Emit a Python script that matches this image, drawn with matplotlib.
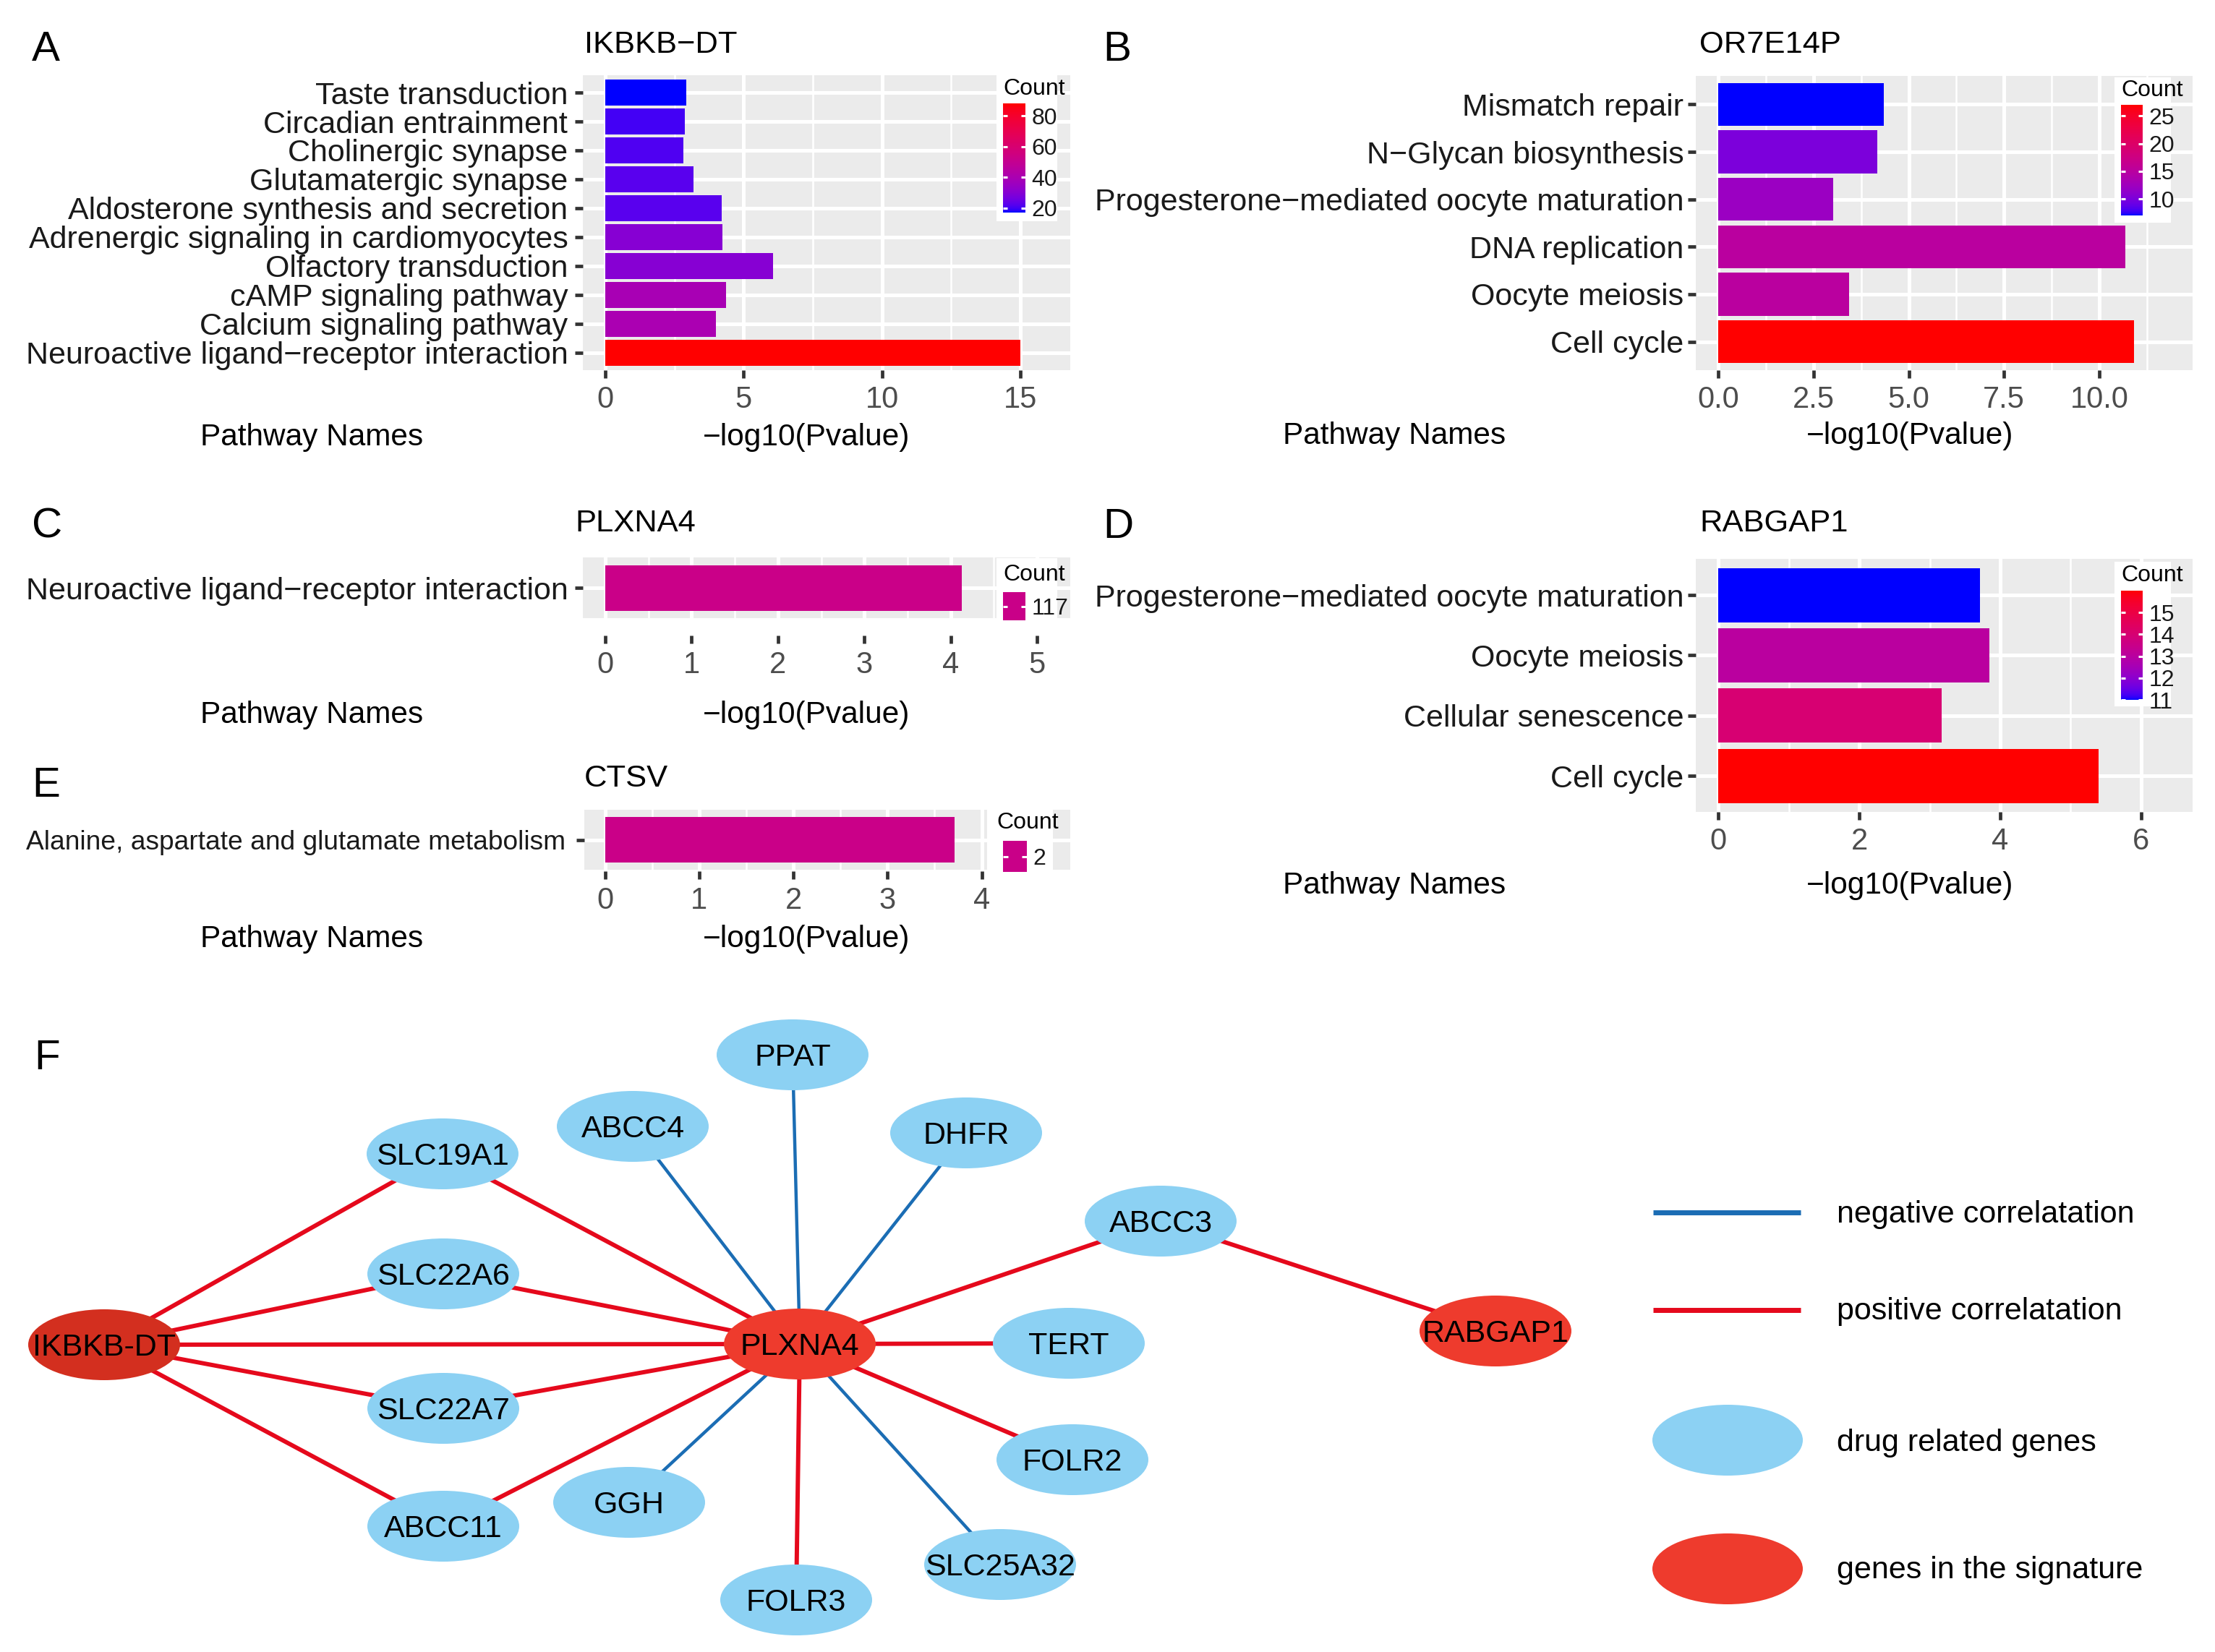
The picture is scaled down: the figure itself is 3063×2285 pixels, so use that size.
import numpy as np
import matplotlib
matplotlib.use("Agg")
import matplotlib.pyplot as plt
from matplotlib.patches import Ellipse, Rectangle
from matplotlib.colors import ListedColormap, Normalize

plt.rcParams['font.family'] = ['Liberation Sans', 'DejaVu Sans']

# ---------------- data ----------------
a_terms = ["Taste transduction", "Circadian entrainment", "Cholinergic synapse",
           "Glutamatergic synapse", "Aldosterone synthesis and secretion",
           "Adrenergic signaling in cardiomyocytes", "Olfactory transduction",
           "cAMP signaling pathway", "Calcium signaling pathway",
           "Neuroactive ligand\u2212receptor interaction"]
a_logp = [2.93, 2.88, 2.81, 3.19, 4.21, 4.23, 6.05, 4.36, 4.00, 15.0]
a_count = [17, 20, 21, 22, 22, 30, 30, 39, 40, 88]

b_terms = ["Mismatch repair", "N\u2212Glycan biosynthesis",
           "Progesterone\u2212mediated oocyte maturation", "DNA replication",
           "Oocyte meiosis", "Cell cycle"]
b_logp = [4.35, 4.18, 3.02, 10.68, 3.44, 10.91]
b_count = [7, 10, 12, 15, 15, 27]

c_terms = ["Neuroactive ligand\u2212receptor interaction"]
c_logp = [4.13]
c_count = [117]

d_terms = ["Progesterone\u2212mediated oocyte maturation", "Oocyte meiosis",
           "Cellular senescence", "Cell cycle"]
d_logp = [3.71, 3.85, 3.17, 5.40]
d_count = [11, 13, 14, 16]

e_terms = ["Alanine, aspartate and glutamate metabolism"]
e_logp = [3.71]
e_count = [2]

a_ticks, a_tick_labels = [0, 5, 10, 15], ["0", "5", "10", "15"]
b_ticks, b_tick_labels = [0, 2.5, 5, 7.5, 10], ["0.0", "2.5", "5.0", "7.5", "10.0"]
c_ticks, c_tick_labels = [0, 1, 2, 3, 4, 5], ["0", "1", "2", "3", "4", "5"]
d_ticks, d_tick_labels = [0, 2, 4, 6], ["0", "2", "4", "6"]
e_ticks, e_tick_labels = [0, 1, 2, 3, 4], ["0", "1", "2", "3", "4"]
a_cb_ticks = [20, 40, 60, 80]
b_cb_ticks = [10, 15, 20, 25]
d_cb_ticks = [11, 12, 13, 14, 15]

# network
node_names = ["IKBKB-DT", "PLXNA4", "RABGAP1", "SLC19A1", "SLC22A6", "SLC22A7",
              "ABCC11", "ABCC4", "PPAT", "DHFR", "ABCC3", "TERT", "FOLR2",
              "SLC25A32", "FOLR3", "GGH"]
node_type = ["sig_dark", "sig", "sig", "drug", "drug", "drug", "drug", "drug",
             "drug", "drug", "drug", "drug", "drug", "drug", "drug", "drug"]
node_x = [144, 1106, 2068, 612, 613, 613, 613, 875, 1096, 1336, 1605, 1478, 1483, 1383, 1101, 870]
node_y = [1860, 1859, 1841, 1596, 1762, 1948, 2111, 1558, 1459, 1567, 1689, 1858, 2019, 2164, 2213, 2078]
edges = [("IKBKB-DT", "SLC19A1", "pos"), ("IKBKB-DT", "SLC22A6", "pos"),
         ("IKBKB-DT", "PLXNA4", "pos"), ("IKBKB-DT", "SLC22A7", "pos"),
         ("IKBKB-DT", "ABCC11", "pos"), ("SLC19A1", "PLXNA4", "pos"),
         ("SLC22A6", "PLXNA4", "pos"), ("SLC22A7", "PLXNA4", "pos"),
         ("ABCC11", "PLXNA4", "pos"), ("PLXNA4", "ABCC3", "pos"),
         ("ABCC3", "RABGAP1", "pos"), ("PLXNA4", "TERT", "pos"),
         ("PLXNA4", "FOLR2", "pos"), ("PLXNA4", "FOLR3", "pos"),
         ("PLXNA4", "ABCC4", "neg"), ("PLXNA4", "PPAT", "neg"),
         ("PLXNA4", "DHFR", "neg"), ("PLXNA4", "GGH", "neg"),
         ("PLXNA4", "SLC25A32", "neg")]
legend_labels = ["negative correlatation", "positive correlatation",
                 "drug related genes", "genes in the signature"]

# ---------------- colour scale (ggplot Lab gradient blue -> red) -------------
_M = np.array([[0.4124564, 0.3575761, 0.1804375],
               [0.2126729, 0.7151522, 0.0721750],
               [0.0193339, 0.1191920, 0.9503041]])
_Mi = np.linalg.inv(_M)
_wp = np.array([0.95047, 1.0, 1.08883])


def _lin(c):
    c = np.asarray(c, float)
    return np.where(c <= 0.04045, c / 12.92, ((c + 0.055) / 1.055) ** 2.4)


def _gam(c):
    c = np.clip(c, 0, 1)
    return np.where(c <= 0.0031308, 12.92 * c, 1.055 * c ** (1 / 2.4) - 0.055)


def _f(t):
    d = 6 / 29
    return np.where(t > d ** 3, np.cbrt(t), t / (3 * d * d) + 4 / 29)


def _fi(t):
    d = 6 / 29
    return np.where(t > d, t ** 3, 3 * d * d * (t - 4 / 29))


def rgb2lab(rgb):
    xyz = _M @ _lin(rgb)
    fx, fy, fz = _f(xyz / _wp)
    return np.array([116 * fy - 16, 500 * (fx - fy), 200 * (fy - fz)])


def lab2rgb(lab):
    L, a, b = lab
    fy = (L + 16) / 116
    fx = fy + a / 500
    fz = fy - b / 200
    xyz = _wp * _fi(np.array([fx, fy, fz]))
    return np.clip(_gam(_Mi @ xyz), 0, 1)


lo, hi = rgb2lab([0, 0, 1]), rgb2lab([1, 0, 0])
cmap = ListedColormap([lab2rgb(lo + (hi - lo) * t) for t in np.linspace(0, 1, 256)])

# ---------------- figure ----------------
W, H = 3063, 2285
DPI = 100
fig = plt.figure(figsize=(W / DPI, H / DPI), dpi=DPI)
fig.patch.set_facecolor('white')
PX = DPI / 72.0


def add_ax(x0, y0, x1, y1):
    return fig.add_axes([x0 / W, 1 - y1 / H, (x1 - x0) / W, (y1 - y0) / H])


def ftext(x, yc, s, size, ha='left', color='black', caps=0.358):
    yb = yc + caps * size * PX
    fig.text(x / W, 1 - yb / H, s, fontsize=size, ha=ha, va='baseline', color=color)


def bar_panel(box, xlim, terms, vals, counts, xt, xtl, cat_fs, ypad=7, offset=0):
    ax = add_ax(*box)
    for s in ax.spines.values():
        s.set_visible(False)
    if offset:
        ax.spines['bottom'].set_position(('outward', offset))
    n = len(terms)
    pos = np.arange(n, 0, -1)
    if len(counts) > 1:
        norm = Normalize(min(counts), max(counts))
        cols = [cmap(norm(c)) for c in counts]
    else:
        cols = [cmap(0.5)]
    ax.barh(pos, vals, height=0.9, color=cols, zorder=2)
    ax.set_facecolor('#EBEBEB')
    ax.set_xlim(*xlim)
    ax.set_ylim(0.4, n + 0.6)
    ax.set_yticks(pos)
    ax.set_yticklabels(terms, fontsize=cat_fs, color='#1A1A1A')
    ax.set_xticks(xt)
    ax.set_xticklabels(xtl, fontsize=30, color='#4D4D4D')
    step = xt[1] - xt[0]
    minors = [v + step / 2 for v in xt if xlim[0] < v + step / 2 < xlim[1]]
    ax.set_xticks(minors, minor=True)
    ax.set_axisbelow(True)
    ax.grid(which='major', color='white', lw=3.6)
    ax.grid(which='minor', axis='x', color='white', lw=1.8)
    ax.tick_params(axis='x', which='major', length=7.9, width=3.4, color='#333333', pad=7)
    ax.tick_params(axis='y', which='major', length=7.9, width=3.4, color='#333333', pad=ypad)
    ax.tick_params(which='minor', length=0)
    return ax


def white_box(x0, y0, x1, y1):
    fig.add_artist(Rectangle((x0 / W, 1 - y1 / H), (x1 - x0) / W, (y1 - y0) / H,
                             transform=fig.transFigure, facecolor='white',
                             edgecolor='none', zorder=1))


def colorbar(box, vmin, vmax, ticks, single=False):
    cax = add_ax(*box)
    cax.set_zorder(2)
    if single:
        cax.imshow(np.array([[0.5]]), cmap=cmap, norm=Normalize(0, 1),
                   extent=[0, 1, vmin, vmax], aspect='auto')
    else:
        grad = np.linspace(vmin, vmax, 300)[:, None]
        cax.imshow(grad, cmap=cmap, norm=Normalize(vmin, vmax), origin='lower',
                   extent=[0, 1, vmin, vmax], aspect='auto')
    cax.set_xlim(0, 1)
    cax.set_ylim(vmin, vmax)
    cax.hlines(ticks, 0, 0.2, color='white', lw=2.2)
    cax.hlines(ticks, 0.8, 1, color='white', lw=2.2)
    cax.set_xticks([])
    cax.yaxis.tick_right()
    cax.set_yticks(ticks)
    cax.set_yticklabels([str(t) for t in ticks], fontsize=23, color='#1A1A1A')
    cax.tick_params(length=0, pad=6)
    for s in cax.spines.values():
        s.set_visible(False)
    return cax


# Panel A
bar_panel((806, 104, 1480, 512), (-0.81, 16.80), a_terms, a_logp, a_count,
          a_ticks, a_tick_labels, 31)
white_box(1378, 104, 1462, 306)
colorbar((1387, 143, 1418, 294), min(a_count), max(a_count), a_cb_ticks)
ftext(1387, 120, "Count", 23)

# Panel B
bar_panel((2345, 105, 3032, 512), (-0.59, 12.45), b_terms, b_logp, b_count,
          b_ticks, b_tick_labels, 31, ypad=4)
white_box(2924, 107, 3002, 308)
colorbar((2933, 145, 2963, 298), min(b_count), max(b_count), b_cb_ticks)
ftext(2933, 122, "Count", 23)

# Panel C
bar_panel((806, 771, 1480, 855), (-0.26, 5.385), c_terms, c_logp, c_count,
          c_ticks, c_tick_labels, 31, offset=24 / PX)
white_box(1378, 772, 1462, 860)
colorbar((1387, 819, 1418, 858), c_count[0] - 0.5, c_count[0] + 0.5, c_count, single=True)
ftext(1387, 792, "Count", 23)

# Panel D
bar_panel((2345, 773, 3032, 1123), (-0.32, 6.73), d_terms, d_logp, d_count,
          d_ticks, d_tick_labels, 31, ypad=4)
white_box(2924, 777, 3002, 977)
colorbar((2933, 817, 2963, 968), min(d_count), max(d_count), d_cb_ticks)
ftext(2933, 793, "Count", 23)

# Panel E
bar_panel((808, 1120, 1480, 1203), (-0.22, 4.94), e_terms, e_logp, e_count,
          e_ticks, e_tick_labels, 26.7, ypad=11, offset=2 / PX)
white_box(1365, 1120, 1456, 1207)
colorbar((1387, 1163, 1420, 1206), e_count[0] - 0.5, e_count[0] + 0.5, e_count, single=True)
ftext(1378, 1135, "Count", 23)

# titles, axis names, panel letters
for x, y, s in [(808, 57, "IKBKB\u2212DT"), (2350, 57, "OR7E14P"), (795, 719, "PLXNA4"),
                (2350, 719, "RABGAP1"), (808, 1072, "CTSV")]:
    ftext(x, y, s, 31.3)
for px_, lx, y in [(431, 1115, 602), (1928, 2641, 600), (431, 1115, 986),
                   (1928, 2641, 1222), (431, 1115, 1296)]:
    ftext(px_, y, "Pathway Names", 30.5, ha='center', caps=0.33)
    ftext(lx, y, "\u2212log10(Pvalue)", 30.5, ha='center', caps=0.33)
for x, y, s in [(44, 63, "A"), (1525, 63, "B"), (44, 723, "C"), (1525, 723, "D"),
                (44, 1081, "E"), (47, 1458, "F")]:
    ftext(x, y, s, 42)

# ---------------- network ----------------
nax = add_ax(0, 1380, W, H)
nax.set_xlim(0, W)
nax.set_ylim(H, 1380)
nax.axis('off')
pos = {n: (x, y) for n, x, y in zip(node_names, node_x, node_y)}
RED, BLUE = '#E5091C', '#1B6DB4'
for s, t, kind in edges:
    (x1, y1), (x2, y2) = pos[s], pos[t]
    if kind == 'pos':
        nax.plot([x1, x2], [y1, y2], color=RED, lw=4.3, zorder=1, solid_capstyle='butt')
    else:
        nax.plot([x1, x2], [y1, y2], color=BLUE, lw=3.2, zorder=1, solid_capstyle='butt')
fill = {'drug': '#8CD1F3', 'sig': '#EE3B2D', 'sig_dark': '#D32F1F'}
NFS = 31
for n, kind in zip(node_names, node_type):
    x, y = pos[n]
    nax.add_patch(Ellipse((x, y), 210, 98, facecolor=fill[kind], edgecolor='none', zorder=2))
    nax.text(x, y + 0.358 * NFS * PX, n, fontsize=NFS, ha='center', va='baseline', zorder=3)

# network legend
nax.plot([2286, 2490], [1677, 1677], color=BLUE, lw=5, solid_capstyle='butt')
nax.plot([2286, 2490], [1812, 1812], color=RED, lw=5, solid_capstyle='butt')
nax.add_patch(Ellipse((2389, 1992), 208, 98, facecolor=fill['drug'], edgecolor='none'))
nax.add_patch(Ellipse((2389, 2170), 208, 98, facecolor=fill['sig'], edgecolor='none'))
for y, s in zip([1678, 1812, 1994, 2170], legend_labels):
    nax.text(2540, y + 0.3 * NFS * PX, s, fontsize=NFS, ha='left', va='baseline')

fig.savefig("out.png", dpi=DPI)
